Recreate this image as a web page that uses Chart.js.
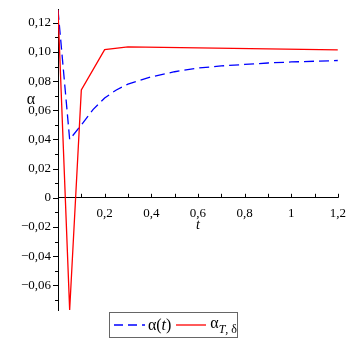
<!DOCTYPE html>
<html>
<head>
<meta charset="utf-8">
<script src="https://cdn.jsdelivr.net/npm/chart.js@4.4.1/dist/chart.umd.min.js"></script>
<style>
  html, body { margin: 0; padding: 0; background: #fff; }
  #wrap { position: relative; width: 349px; height: 349px; }
  #legend {
    position: absolute; left: 109px; top: 312px; width: 127px; height: 24px;
    border: 1px solid #666; font-family: 'Liberation Serif', serif; font-size: 16px;
    color: #000; display: flex; align-items: center; white-space: nowrap;
  }
  #legend svg { display: block; }
  #legend sub { font-size: 12px; vertical-align: -5px; }
</style>
</head>
<body>
<div id="wrap">
  <canvas id="grafico" width="349" height="349"></canvas>
  <div id="legend">
    <svg width="36" height="10" style="margin-left:3px"><line x1="1" y1="5" x2="32" y2="5" stroke="#0000ff" stroke-width="1.3" stroke-dasharray="9,5"/></svg>
    <span>α(<i>t</i>)</span>
    <svg width="36" height="10" style="margin-left:4px"><line x1="1" y1="5" x2="31" y2="5" stroke="#ff0000" stroke-width="1.3"/></svg>
    <span>α<sub><i>T</i>, δ</sub></span>
  </div>
</div>
<script>
// datos
const tAlfa = [0, 0.05, 0.1, 0.15, 0.2, 0.25, 0.3, 0.4, 0.5, 0.6, 0.7, 0.8, 0.9, 1.0, 1.1, 1.2];
const valoresAlfa = [0.129, 0.040, 0.050, 0.0605, 0.0685, 0.0740, 0.0780, 0.0830, 0.0865, 0.0890, 0.0905, 0.0915, 0.0925, 0.0932, 0.0937, 0.0942];
const tAlfaTD = [0, 0.05, 0.1, 0.2, 0.3, 1.2];
const valoresAlfaTD = [0.129, -0.077, 0.074, 0.1017, 0.1035, 0.1015];
const ticksX = [0.2, 0.4, 0.6, 0.8, 1.0, 1.2];
const ticksY = [-0.06, -0.04, -0.02, 0, 0.02, 0.04, 0.06, 0.08, 0.10, 0.12];
const menoresX = [0.1, 0.3, 0.5, 0.7, 0.9, 1.1];
const menoresY = [-0.07, -0.05, -0.03, -0.01, 0.01, 0.03, 0.05, 0.07, 0.09, 0.11];

const fuente = { family: "'Liberation Serif', serif", size: 13 };

// formato con coma decimal y signo menos tipográfico
const formatoY = v => Math.abs(v) < 1e-9 ? '0' : v.toFixed(2).replace('.', ',').replace('-', '−');
const formatoX = v => {
    const r = Math.round(v * 10) / 10;
    return (Number.isInteger(r) ? String(r) : r.toFixed(1)).replace('.', ',');
};

// marcas de los ejes (mayores y menores) y títulos de los ejes
const marcas = {
    id: 'marcas',
    afterDraw(chart) {
        const { ctx, chartArea, scales: { x, y } } = chart;
        const y0 = y.getPixelForValue(0);
        const xl = x.getPixelForValue(0);
        ctx.save();
        ctx.strokeStyle = '#000';
        ctx.lineWidth = 1;
        ctx.beginPath();
        ticksX.concat(menoresX).forEach(v => {
            const px = Math.round(x.getPixelForValue(v)) + 0.5;
            ctx.moveTo(px, y0);
            ctx.lineTo(px, y0 - 4);
        });
        ticksY.forEach(v => {
            const py = Math.round(y.getPixelForValue(v)) + 0.5;
            ctx.moveTo(xl, py);
            ctx.lineTo(xl - 5, py);
        });
        menoresY.forEach(v => {
            const py = Math.round(y.getPixelForValue(v)) + 0.5;
            ctx.moveTo(xl, py);
            ctx.lineTo(xl - 3, py);
        });
        ctx.stroke();
        ctx.fillStyle = '#000';
        ctx.textAlign = 'center';
        ctx.textBaseline = 'middle';
        ctx.font = "16px 'Liberation Serif', serif";
        ctx.fillText('α', 31, 100);
        ctx.font = "italic 14px 'Liberation Serif', serif";
        ctx.fillText('t', (chartArea.left + chartArea.right) / 2, y0 + 28);
        ctx.restore();
    }
};

new Chart(document.getElementById('grafico'), {
    type: 'scatter',
    data: {
        datasets: [
            {
                label: 'α(t)',
                data: tAlfa.map((t, i) => ({ x: t, y: valoresAlfa[i] })),
                showLine: true,
                borderColor: '#0000ff',
                borderWidth: 1.3,
                borderDash: [10, 5],
                pointRadius: 0,
                tension: 0,
                order: 2
            },
            {
                label: 'αT,δ',
                data: tAlfaTD.map((t, i) => ({ x: t, y: valoresAlfaTD[i] })),
                showLine: true,
                borderColor: '#ff0000',
                borderWidth: 1.3,
                pointRadius: 0,
                tension: 0,
                order: 1
            }
        ]
    },
    options: {
        responsive: false,
        animation: false,
        layout: { padding: { top: 6, right: 11, left: 0, bottom: 39 } },
        plugins: { legend: { display: false }, tooltip: { enabled: false } },
        scales: {
            x: {
                type: 'linear',
                position: { y: 0 },
                min: 0,
                max: 1.2,
                afterBuildTicks: s => { s.ticks = ticksX.map(v => ({ value: v })); },
                afterFit: s => { s.height = 0; },
                grid: { display: false, drawTicks: true, tickLength: 5 },
                border: { display: true, color: '#000', width: 1 },
                ticks: { color: '#000', font: fuente, padding: 3, maxRotation: 0, callback: v => formatoX(v) },
                title: { display: false }
            },
            y: {
                type: 'linear',
                position: 'left',
                min: -0.077,
                max: 0.129,
                afterBuildTicks: s => { s.ticks = ticksY.map(v => ({ value: v })); },
                afterFit: s => { s.width = 58; },
                grid: { display: false, drawTicks: true, tickLength: 5 },
                border: { display: true, color: '#000', width: 1 },
                ticks: { color: '#000', font: fuente, padding: 2, callback: v => formatoY(v) }
            }
        }
    },
    plugins: [marcas]
});
</script>
</body>
</html>
